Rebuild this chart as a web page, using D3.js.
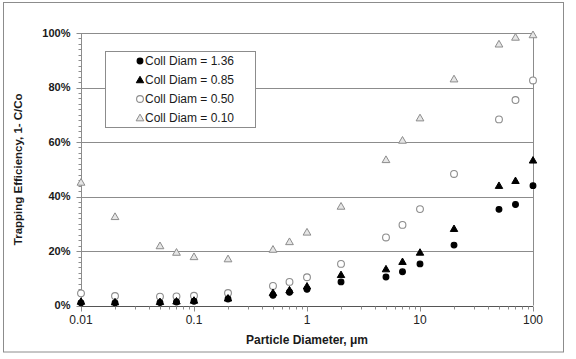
<!DOCTYPE html>
<html><head><meta charset="utf-8">
<script src="https://cdn.jsdelivr.net/npm/d3@7"></script>
<style>body{margin:0;background:#fff;}svg{display:block;font-family:"Liberation Sans",Arial,sans-serif;}</style>
</head><body><svg id="c" width="576" height="359"></svg>
<script>
const particleDiam = [0.01,0.02,0.05,0.07,0.1,0.2,0.5,0.7,1,2,5,7,10,20,50,70,100];
const coll136 = [1.0,1.0,1.1,1.3,1.6,2.4,3.8,4.9,6.0,8.7,10.5,12.4,15.3,22.2,35.3,37.1,44.0];
const coll085 = [1.5,1.3,1.4,1.6,1.9,2.7,4.7,5.7,7.1,11.3,13.4,16.1,19.5,28.2,44.0,45.8,53.3];
const coll050 = [4.5,3.5,3.3,3.4,3.6,4.6,7.2,8.7,10.4,15.3,25.0,29.6,35.4,48.3,68.3,75.4,82.6];
const coll010 = [45.2,32.6,21.9,19.5,17.9,17.1,20.6,23.4,26.9,36.4,53.5,60.6,68.8,83.1,95.9,98.4,99.3];
const seriesNames = ["Coll Diam = 1.36","Coll Diam = 0.85","Coll Diam = 0.50","Coll Diam = 0.10"];
const xTicks = [0.01,0.1,1,10,100];
const yTicks = [0,20,40,60,80,100];

const svg = d3.select("#c");
const L=81,R=533,T=33,B=305.6;
const x = d3.scaleLog().domain([0.01,100]).range([L,R]);
const y = d3.scaleLinear().domain([0,100]).range([B,T]);

// outer frame
svg.append("rect").attr("x",3.5).attr("y",2.5).attr("width",560).attr("height",349.5)
  .attr("fill","#fff").attr("stroke","#8c8c8c").attr("stroke-width",1);

// gridlines
svg.append("g").selectAll("line").data(yTicks.filter(d=>d>0)).join("line")
  .attr("x1",L).attr("x2",R).attr("y1",d=>Math.round(y(d))+0.5).attr("y2",d=>Math.round(y(d))+0.5)
  .attr("stroke","#8c8c8c").attr("stroke-width",1);
// right border
svg.append("line").attr("x1",R+0.5).attr("x2",R+0.5).attr("y1",T).attr("y2",B).attr("stroke","#8c8c8c");

// y axis
const yMinor = d3.range(0,101,2);
const yAx = svg.append("g").attr("transform",`translate(${L+0.5},0)`);
yAx.append("line").attr("y1",T).attr("y2",B).attr("stroke","#8c8c8c");
yAx.selectAll("line.m").data(yMinor).join("line").attr("class","m")
  .attr("x1",-3).attr("x2",0).attr("y1",d=>Math.round(y(d))+0.5).attr("y2",d=>Math.round(y(d))+0.5).attr("stroke","#8c8c8c");
yAx.selectAll("line.M").data(yTicks).join("line").attr("class","M")
  .attr("x1",-5).attr("x2",0).attr("y1",d=>Math.round(y(d))+0.5).attr("y2",d=>Math.round(y(d))+0.5).attr("stroke","#8c8c8c");
yAx.selectAll("text").data(yTicks).join("text")
  .attr("x",-11).attr("y",d=>y(d)).attr("dy","0.35em").attr("text-anchor","end")
  .attr("font-size",11).attr("font-weight","bold").attr("fill","#1a1a1a").text(d=>d+"%");

// x axis
const xMinor = [];
[0.01,0.1,1,10].forEach(b=>{for(let k=2;k<=9;k++) xMinor.push(b*k);});
const xAx = svg.append("g").attr("transform",`translate(0,${Math.round(B)+0.5})`);
xAx.append("line").attr("x1",L).attr("x2",R).attr("stroke","#555");
xAx.selectAll("line.m").data(xMinor).join("line").attr("class","m")
  .attr("x1",d=>Math.round(x(d))+0.5).attr("x2",d=>Math.round(x(d))+0.5).attr("y1",0).attr("y2",3).attr("stroke","#8c8c8c");
xAx.selectAll("line.M").data(xTicks).join("line").attr("class","M")
  .attr("x1",d=>Math.round(x(d))+0.5).attr("x2",d=>Math.round(x(d))+0.5).attr("y1",0).attr("y2",5).attr("stroke","#8c8c8c");
xAx.selectAll("text").data(xTicks).join("text")
  .attr("x",d=>x(d)).attr("y",17).attr("text-anchor","middle")
  .attr("font-size",12).attr("fill","#222").text(d=>String(d));

// axis titles
svg.append("text").attr("x",(L+R)/2).attr("y",344).attr("text-anchor","middle")
  .attr("font-size",12).attr("font-weight","bold").attr("fill","#1a1a1a").text("Particle Diameter, μm");
svg.append("text").attr("transform",`translate(22,${(T+B)/2}) rotate(-90)`).attr("text-anchor","middle")
  .attr("font-size",11.5).attr("font-weight","bold").attr("fill","#1a1a1a").text("Trapping Efficiency, 1- C/Co");

// markers
const tri = d3.symbol().type(d3.symbolTriangle);
const styles = [
  {data:coll136, shape:"circle", fill:"#000", stroke:"#000", r:2.9},
  {data:coll085, shape:"tri", fill:"#000", stroke:"#000", size:24},
  {data:coll050, shape:"circle", fill:"#fff", stroke:"#8c8c8c", r:3.4},
  {data:coll010, shape:"tri", fill:"#e6e6e6", stroke:"#8c8c8c", size:26}
];
function drawMarker(g, s, cx, cy){
  if(s.shape==="circle"){
    g.append("circle").attr("cx",cx).attr("cy",cy).attr("r",s.r).attr("fill",s.fill).attr("stroke",s.stroke).attr("stroke-width",1.1);
  } else {
    g.append("path").attr("d",tri.size(s.size)()).attr("transform",`translate(${cx},${cy+0.6})`)
      .attr("fill",s.fill).attr("stroke",s.stroke).attr("stroke-width",1);
  }
}
const mg = svg.append("g");
[3,2,1,0].forEach(i=>{
  const s = styles[i];
  const g = mg.append("g");
  s.data.forEach((v,j)=>drawMarker(g,s,x(particleDiam[j]),y(v)));
});

// legend
const lg = svg.append("g");
lg.append("rect").attr("x",105.5).attr("y",51.5).attr("width",150).attr("height",76)
  .attr("fill","#fff").attr("stroke","#8c8c8c");
seriesNames.forEach((n,i)=>{
  const ly = 61 + i*19;
  drawMarker(lg, styles[i], 140, ly);
  lg.append("text").attr("x",145).attr("y",ly).attr("dy","0.35em").attr("font-size",12).attr("fill","#1a1a1a").text(n);
});
</script></body></html>
